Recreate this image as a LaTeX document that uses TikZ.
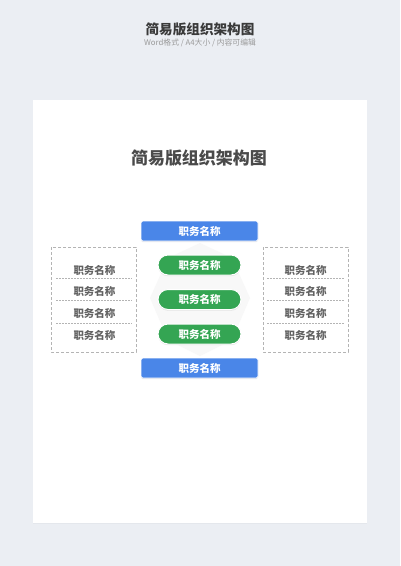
\documentclass[tikz,border=0pt]{standalone}
\usepackage{fontspec}
\setmainfont{Noto Sans CJK SC}
\usetikzlibrary{shadows}
\definecolor{bgc}{HTML}{EBEEF3}
\definecolor{bluec}{HTML}{4A86E8}
\definecolor{greenc}{HTML}{34A553}
\definecolor{titlec}{HTML}{3A3A3A}
\definecolor{subc}{HTML}{9A9A9A}
\definecolor{cardtc}{HTML}{4A4A4A}
\definecolor{sidec}{HTML}{626262}
\definecolor{dashc}{HTML}{B4B4B4}
\definecolor{hexc}{HTML}{F8F8F8}
\tikzset{
  bluebox/.style={fill=bluec, draw=white, line width=0.8pt, rounded corners=1.5pt, minimum width=117pt, minimum height=20pt,
    inner sep=0pt, text=white, font=\fontsize{10.5}{12}\selectfont\bfseries,
    drop shadow={opacity=0.18, shadow xshift=0pt, shadow yshift=-1.2pt}},
  greenpill/.style={fill=greenc, draw=white, line width=1pt, rounded corners=10pt, minimum width=83pt,
    minimum height=20pt, inner sep=0pt, text=white, font=\fontsize{10.5}{12}\selectfont\bfseries,
    drop shadow={opacity=0.18, shadow xshift=0pt, shadow yshift=-1.2pt}},
  sidetext/.style={text=sidec, font=\fontsize{10.5}{12}\selectfont\bfseries, inner sep=1pt},
  dashbox/.style={draw=dashc, line width=0.7pt, dash pattern=on 3pt off 2pt},
  divider/.style={draw=dashc, line width=0.5pt, dash pattern=on 1.5pt off 1.5pt}
}
\begin{document}
\begin{tikzpicture}[x=1pt,y=-1pt]
\useasboundingbox (0,0) rectangle (400,566);
\fill[bgc] (0,0) rectangle (400,566);
\node[text=titlec, font=\fontsize{13.6}{15}\selectfont\bfseries] (htitle) at (200,29) {简易版组织架构图};
\node[text=subc, font=\fontsize{7.8}{9}\selectfont] (hsub) at (200,42.5) {Word格式 / A4大小 / 内容可编辑};
% card
\fill[white, drop shadow={opacity=0.06, shadow xshift=0pt, shadow yshift=-1pt}] (33,100) rectangle (367,523);
\node[text=cardtc, font=\fontsize{17}{19}\selectfont\bfseries] (ctitle) at (199,158) {简易版组织架构图};
% faint hexagon behind
\fill[hexc] (200,243) -- (232,258) -- (250,298) -- (232,340) -- (200,356) -- (168,340) -- (150,298) -- (168,258) -- cycle;
% side dashed boxes
\draw[dashbox] (51,247) rectangle (136,352);
\draw[dashbox] (263,247) rectangle (348,352);
\coordinate (l1a) at (56,278); \coordinate (l1b) at (132,278);
\coordinate (l2a) at (56,300.5); \coordinate (l2b) at (132,300.5);
\coordinate (l3a) at (56,323); \coordinate (l3b) at (132,323);
\coordinate (r1a) at (267,278); \coordinate (r1b) at (344,278);
\coordinate (r2a) at (267,300.5); \coordinate (r2b) at (344,300.5);
\coordinate (r3a) at (267,323); \coordinate (r3b) at (344,323);
\draw[divider] (l1a) -- (l1b); \draw[divider] (l2a) -- (l2b); \draw[divider] (l3a) -- (l3b);
\draw[divider] (r1a) -- (r1b); \draw[divider] (r2a) -- (r2b); \draw[divider] (r3a) -- (r3b);
\node[sidetext] (L1) at (94.5,270) {职务名称};
\node[sidetext] (L2) at (94.5,291.5) {职务名称};
\node[sidetext] (L3) at (94.5,313.3) {职务名称};
\node[sidetext] (L4) at (94.5,335) {职务名称};
\node[sidetext] (R1) at (305.5,270) {职务名称};
\node[sidetext] (R2) at (305.5,291.5) {职务名称};
\node[sidetext] (R3) at (305.5,313.3) {职务名称};
\node[sidetext] (R4) at (305.5,335) {职务名称};
% center column
\node[bluebox] (B1) at (199.5,231) {职务名称};
\node[greenpill] (G1) at (199.5,265) {职务名称};
\node[greenpill] (G2) at (199.5,299.5) {职务名称};
\node[greenpill] (G3) at (199.5,334) {职务名称};
\node[bluebox] (B2) at (199.5,368) {职务名称};
\end{tikzpicture}
\end{document}
